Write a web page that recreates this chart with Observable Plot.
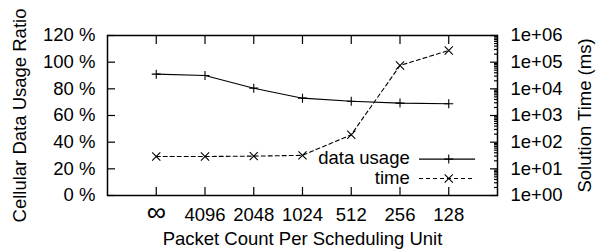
<!DOCTYPE html>
<html><head><meta charset="utf-8">
<script src="https://cdn.jsdelivr.net/npm/d3@7"></script>
<script src="https://cdn.jsdelivr.net/npm/@observablehq/plot@0.6"></script>
<style>
body{margin:0;background:#fff}
</style>
</head><body><div id="chart"></div>
<script>
const categories = ["∞", "4096", "2048", "1024", "512", "256", "128"];
const dataUsage = [91, 90, 80.5, 73, 70.7, 69.3, 68.8];
const solutionTime = [29, 29, 30, 32, 190, 75000, 275000];
const percentTicks = [0, 20, 40, 60, 80, 100, 120];
const timeDecades = [0, 1, 2, 3, 4, 5, 6];
const timeTickLabels = ["1e+00", "1e+01", "1e+02", "1e+03", "1e+04", "1e+05", "1e+06"];
const seriesNames = ["data usage", "time"];

const F = "'Liberation Sans', Arial, Helvetica, sans-serif";
const FS = 18.5;
// time plotted on shared y range: 6 decades over 0..120
const tScale = 120 / 6;
const toY = t => Math.log10(t) * tScale;

const rows = categories.map((c, i) => ({i, cat: c, usage: dataUsage[i], time: solutionTime[i], ty: toY(solutionTime[i])}));
const minor = [];
for (const e of timeDecades.slice(0, -1)) for (let k = 2; k <= 9; k++) minor.push(toY(k * 10 ** e));

// legend in data coordinates
const leg = {textX: 5.2, x1: 5.4, x2: 6.55, mx: 6, y: [27.3, 12.8]};
const legRows = seriesNames.map((n, j) => ({n, y: leg.y[j], x1: leg.x1, x2: leg.x2, mx: leg.mx}));

const chart = Plot.plot({
  width: 598, height: 251,
  marginLeft: 107, marginRight: 101, marginTop: 35, marginBottom: 56,
  style: {fontFamily: F, fontSize: FS + "px", background: "white", color: "black"},
  x: {type: "linear", domain: [-1, 7]},
  y: {domain: [0, 120]},
  marks: [
    // left axis
    Plot.axisY(percentTicks, {anchor: "left", tickSize: -8, tickFormat: () => "", label: null, strokeWidth: 1.2}),
    Plot.axisY(percentTicks, {anchor: "left", tickSize: 0, tickPadding: 12, tickFormat: d => d + " %", label: null, fontSize: FS}),
    // right axis (log time)
    Plot.axisY(timeDecades.map(e => e * tScale), {anchor: "right", tickSize: -8, tickFormat: () => "", label: null, strokeWidth: 1.2}),
    Plot.axisY(minor, {anchor: "right", tickSize: -4, tickFormat: () => "", label: null, strokeWidth: 1.2}),
    Plot.axisY(timeDecades.map(e => e * tScale), {anchor: "right", tickSize: 0, tickPadding: 13, tickFormat: (d, i) => timeTickLabels[i], label: null, fontSize: FS}),
    // x axis
    Plot.axisX(d3.range(categories.length), {anchor: "bottom", tickSize: -8, tickFormat: () => "", label: null, strokeWidth: 1.2}),
    Plot.axisX(d3.range(categories.length), {anchor: "top", tickSize: -8, tickFormat: () => "", label: null, strokeWidth: 1.2}),
    Plot.axisX(d3.range(categories.length), {anchor: "bottom", tickSize: 0, tickPadding: 12, tickFormat: i => categories[i], label: null, fontSize: FS}),
    Plot.frame({stroke: "black", strokeWidth: 1.5}),
    // axis titles
    Plot.text(["Cellular Data Usage Ratio"], {frameAnchor: "left", textAnchor: "middle", rotate: -90, dx: -87, fontSize: FS}),
    Plot.text(["Solution Time (ms)"], {frameAnchor: "right", textAnchor: "middle", rotate: -90, dx: 88, fontSize: FS}),
    Plot.text(["Packet Count Per Scheduling Unit"], {frameAnchor: "bottom", textAnchor: "middle", dy: 49, fontSize: FS}),
    // series
    Plot.line(rows, {x: "i", y: "usage", stroke: "black", strokeWidth: 1.1}),
    Plot.dot(rows, {x: "i", y: "usage", symbol: "plus", r: 3, stroke: "black", strokeWidth: 1.1}),
    Plot.line(rows, {x: "i", y: "ty", stroke: "black", strokeWidth: 1.1, strokeDasharray: "4,3"}),
    Plot.dot(rows, {x: "i", y: "ty", symbol: "times", r: 3.8, stroke: "black", strokeWidth: 1.1}),
    // legend
    Plot.text(legRows, {x: () => leg.textX, y: "y", text: "n", textAnchor: "end", fontSize: FS, lineHeight: 0.9}),
    Plot.ruleY(legRows.slice(0, 1), {y: "y", x1: "x1", x2: "x2", stroke: "black", strokeWidth: 1.1}),
    Plot.ruleY(legRows.slice(1), {y: "y", x1: "x1", x2: "x2", stroke: "black", strokeWidth: 1.1, strokeDasharray: "4,3"}),
    Plot.dot(legRows.slice(0, 1), {x: "mx", y: "y", symbol: "plus", r: 3, stroke: "black", strokeWidth: 1.1}),
    Plot.dot(legRows.slice(1), {x: "mx", y: "y", symbol: "times", r: 3.8, stroke: "black", strokeWidth: 1.1})
  ]
});
document.getElementById("chart").append(chart);
// enlarge and raise the infinity symbol like the reference
d3.select(chart).selectAll("text").filter(function() { return this.textContent === "∞"; })
  .attr("font-size", 27).attr("dy", "-0.22em");
</script>
</body></html>
